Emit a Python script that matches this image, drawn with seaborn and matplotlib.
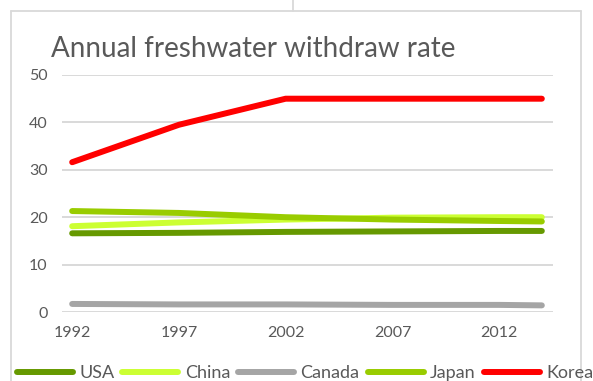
import matplotlib
matplotlib.use("Agg")
import matplotlib.pyplot as plt
from matplotlib.lines import Line2D
import seaborn as sns
import pandas as pd

# Withdrawal rate by country (readings at selected years)
years = [1992, 1997, 2002, 2007, 2012, 2014]
usa = [16.6, 16.7, 16.9, 17.0, 17.1, 17.1]
china = [18.1, 18.9, 19.5, 19.9, 20.0, 20.0]
canada = [1.7, 1.6, 1.6, 1.5, 1.5, 1.4]
japan = [21.3, 20.9, 20.0, 19.5, 19.2, 19.1]
korea = [31.6, 39.5, 45.0, 45.0, 45.0, 45.0]

countries = ["USA", "China", "Canada", "Japan", "Korea"]
colors = ["#669900", "#CCFF33", "#A5A5A5", "#99CC00", "#FF0000"]
tick_years = [1992, 1997, 2002, 2007, 2012]
y_ticks = [0, 10, 20, 30, 40, 50]
title = "Annual freshwater withdraw rate"

series = dict(zip(countries, [usa, china, canada, japan, korea]))
df = pd.DataFrame(
    [(c, y, v) for c in countries for y, v in zip(years, series[c])],
    columns=["country", "year", "rate"],
)

sns.set_theme(style="white")
FONT = ["Lato", "DejaVu Sans"]
plt.rcParams["font.family"] = FONT
TXT = "#595959"
GRID = "#D9D9D9"

W, H = 593, 381
fig = plt.figure(figsize=(W / 100, H / 100), dpi=100)
ax = fig.add_axes([61.5 / W, 1 - 312 / H, (552.5 - 61.5) / W, (312 - 75) / H])

sns.lineplot(
    data=df, x="year", y="rate", hue="country", hue_order=countries,
    palette=dict(zip(countries, colors)), linewidth=4.3, ax=ax,
    legend=False, sort=True, estimator=None,
)
for ln in ax.get_lines():
    ln.set_solid_capstyle("round")
    ln.set_solid_joinstyle("round")
    ln.set_clip_on(False)

ax.set_xlim(1991.5, 2014.5)
ax.set_ylim(0, 50)
ax.set_xticks(tick_years)
ax.set_xticklabels([str(t) for t in tick_years])
ax.set_yticks(y_ticks)
ax.set_yticklabels([str(t) for t in y_ticks])
ax.grid(axis="y", color=GRID, linewidth=1.4)
ax.grid(axis="x", visible=False)
ax.set_axisbelow(True)
for s in ax.spines.values():
    s.set_visible(False)
ax.tick_params(axis="both", length=0, labelsize=11.5, colors=TXT)
ax.tick_params(axis="y", pad=10)
ax.tick_params(axis="x", pad=10)
ax.set_xlabel("")
ax.set_ylabel("")

# chart title
fig.text(51 / W, 1 - 57 / H, title, fontsize=20, color=TXT,
         ha="left", va="baseline")

# legend along the bottom
handles = [Line2D([0], [0], color=c, linewidth=4.3, solid_capstyle="round")
           for c in colors]
fig.legend(handles, countries, loc="center", ncol=5,
           bbox_to_anchor=(305 / W, 1 - 373 / H), frameon=False,
           fontsize=13, labelcolor=TXT, handlelength=3.1,
           handletextpad=0.35, columnspacing=0.45, borderpad=0)

# chart frame
frame_kw = dict(color=GRID, linewidth=1.3, transform=fig.transFigure)
top = 1 - 10.5 / H
fig.add_artist(Line2D([11 / W, 11 / W], [0, top], **frame_kw))
fig.add_artist(Line2D([11 / W, 581 / W], [top, top], **frame_kw))
fig.add_artist(Line2D([581 / W, 581 / W], [0, top], **frame_kw))
fig.add_artist(Line2D([293 / W, 293 / W], [top, 1], **frame_kw))

fig.savefig("out.png", dpi=100, facecolor="white")
